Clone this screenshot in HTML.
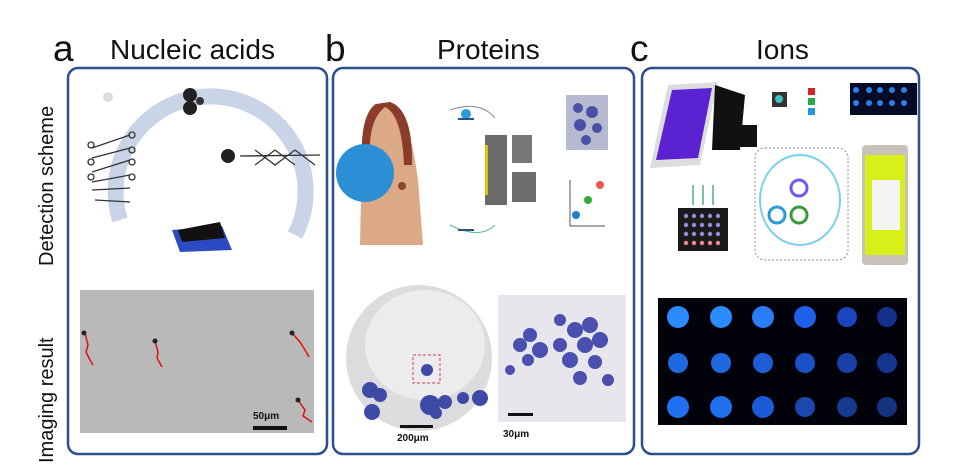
<!DOCTYPE html>
<html><head><meta charset="utf-8"><style>
html,body{margin:0;padding:0;background:#fff}
svg{display:block}
text{font-family:"Liberation Sans",Arial,sans-serif}
</style></head><body>
<svg width="955" height="475" viewBox="0 0 955 475" xmlns="http://www.w3.org/2000/svg">
<rect width="955" height="475" fill="#fff"/>
<!-- headers -->
<text x="53" y="61" font-size="37" fill="#111">a</text>
<text x="110" y="59" font-size="28" fill="#111">Nucleic acids</text>
<text x="325" y="61" font-size="37" fill="#111">b</text>
<text x="437" y="59" font-size="28" fill="#111">Proteins</text>
<text x="630" y="61" font-size="37" fill="#111">c</text>
<text x="756" y="59" font-size="28" fill="#111">Ions</text>
<!-- side labels -->
<text transform="translate(53,266) rotate(-90)" font-size="20" fill="#111">Detection scheme</text>
<text transform="translate(53,463) rotate(-90)" font-size="20" fill="#111">Imaging result</text>
<!-- boxes -->
<rect x="68" y="68" width="259" height="386" rx="10" fill="none" stroke="#2d4f8e" stroke-width="2.5"/>
<rect x="333" y="68" width="301" height="386" rx="10" fill="none" stroke="#2d4f8e" stroke-width="2.5"/>
<rect x="642" y="68" width="277" height="386" rx="10" fill="none" stroke="#2d4f8e" stroke-width="2.5"/>

<!-- panel a scheme -->
<path d="M120 220 A95 95 0 1 1 295 235" fill="none" stroke="#c9d4e6" stroke-width="16"/>
<circle cx="108" cy="97" r="5" fill="#ddd"/>
<circle cx="190" cy="95" r="7" fill="#222"/><circle cx="190" cy="108" r="7" fill="#222"/><circle cx="200" cy="101" r="4" fill="#333"/>
<g stroke="#333" stroke-width="1.3" fill="none">
<path d="M92 148 L130 135 M92 158 L130 148 M92 172 L130 160 M92 182 L130 175 M92 190 L130 188 M95 200 L130 202"/>
<circle cx="132" cy="135" r="3"/><circle cx="132" cy="150" r="3"/><circle cx="132" cy="162" r="3"/><circle cx="132" cy="177" r="3"/>
<circle cx="91" cy="145" r="3"/><circle cx="91" cy="162" r="3"/><circle cx="91" cy="177" r="3"/>
<path d="M240 156 L320 155 M255 150 L275 165 L295 150 L315 165 M255 165 L275 150 L295 165"/>
</g>
<circle cx="228" cy="156" r="7" fill="#222"/>
<path d="M172 230 L222 226 L232 250 L180 252 Z" fill="#2a4bc2"/>
<path d="M178 230 L220 222 L225 238 L182 242 Z" fill="#111"/>
<!-- panel a image -->
<rect x="80" y="290" width="234" height="143" fill="#b9b9b9"/>
<g stroke="#e01010" stroke-width="1.5" fill="none">
<path d="M85 333 L88 345 L86 352 L90 360 L93 365"/>
<path d="M155 341 L158 352 L157 358 L162 367"/>
<path d="M292 333 L300 342 L305 350 L309 357"/>
<path d="M298 400 L305 410 L303 416 L312 422"/>
</g>
<circle cx="84" cy="333" r="2.5" fill="#222"/><circle cx="155" cy="341" r="2.5" fill="#222"/><circle cx="292" cy="333" r="2.5" fill="#222"/><circle cx="298" cy="400" r="2.5" fill="#222"/>
<text x="253" y="419" font-size="10" font-weight="bold" fill="#111">50μm</text>
<rect x="253" y="426" width="34" height="4" fill="#111"/>

<!-- panel b scheme -->
<path d="M375 104 Q362 115 362 150 L360 245 L423 245 L418 180 Q410 120 395 104 Z" fill="#dca987"/>
<path d="M376 104 Q360 115 362 160 L370 158 Q368 120 385 107 Q402 115 404 165 L412 165 Q413 110 390 102 Z" fill="#8a3b2a"/>
<circle cx="365" cy="173" r="29" fill="#2c8fd6"/>
<circle cx="402" cy="186" r="4" fill="#8a4630"/>
<path d="M450 110 Q480 100 495 118" fill="none" stroke="#789" stroke-width="1"/>
<circle cx="466" cy="114" r="5" fill="#2a9ad8"/><rect x="458" y="118" width="16" height="2" fill="#2a4f8e"/>
<path d="M450 225 Q480 240 495 225" fill="none" stroke="#5b9" stroke-width="1"/>
<rect x="458" y="229" width="16" height="2" fill="#2a4f8e"/>
<rect x="485" y="135" width="22" height="70" fill="#6a6a6a"/><rect x="485" y="145" width="3" height="50" fill="#d8c500"/>
<rect x="512" y="135" width="20" height="28" fill="#777"/><rect x="512" y="172" width="24" height="30" fill="#6c6c6c"/>
<rect x="566" y="95" width="42" height="55" fill="#b7b9d0"/>
<g fill="#4a4fa8"><circle cx="578" cy="108" r="5"/><circle cx="592" cy="112" r="6"/><circle cx="580" cy="125" r="6"/><circle cx="597" cy="128" r="5"/><circle cx="586" cy="140" r="5"/></g>
<path d="M570 180 L570 226 L605 226" fill="none" stroke="#555"/>
<circle cx="576" cy="215" r="4" fill="#1a80d0"/><circle cx="588" cy="200" r="4" fill="#3a3"/><circle cx="600" cy="185" r="4" fill="#e55"/>
<!-- panel b images -->
<ellipse cx="419" cy="358" rx="73" ry="73" fill="#dcdcde"/>
<ellipse cx="425" cy="345" rx="60" ry="55" fill="#ececef"/>
<g fill="#3f4aa6">
<circle cx="370" cy="390" r="8"/><circle cx="380" cy="395" r="7"/><circle cx="372" cy="412" r="8"/><circle cx="430" cy="405" r="10"/><circle cx="445" cy="402" r="7"/><circle cx="463" cy="398" r="6"/><circle cx="480" cy="398" r="8"/><circle cx="427" cy="370" r="6"/><circle cx="436" cy="413" r="6"/>
</g>
<rect x="413" y="355" width="27" height="28" fill="none" stroke="#d04040" stroke-dasharray="3,2"/>
<rect x="400" y="425" width="33" height="3" fill="#111"/>
<text x="397" y="441" font-size="10" font-weight="bold" fill="#111">200μm</text>
<rect x="498" y="295" width="128" height="127" fill="#e6e6ec"/>
<g fill="#4a4fb0">
<circle cx="520" cy="345" r="7"/><circle cx="530" cy="335" r="7"/><circle cx="540" cy="350" r="8"/><circle cx="528" cy="360" r="6"/><circle cx="560" cy="345" r="7"/>
<circle cx="575" cy="330" r="8"/><circle cx="590" cy="325" r="8"/><circle cx="600" cy="340" r="8"/><circle cx="585" cy="345" r="8"/><circle cx="570" cy="360" r="8"/><circle cx="595" cy="362" r="7"/><circle cx="580" cy="378" r="7"/><circle cx="608" cy="380" r="6"/><circle cx="560" cy="320" r="6"/><circle cx="510" cy="370" r="5"/>
</g>
<rect x="508" y="413" width="25" height="3" fill="#111"/>
<text x="503" y="437" font-size="10" font-weight="bold" fill="#111">30μm</text>

<!-- panel c scheme -->
<path d="M668 85 L718 82 L700 165 L650 168 Z" fill="#ddd"/>
<path d="M672 90 L712 88 L698 158 L656 160 Z" fill="#5a22d0"/>
<path d="M715 85 L745 95 L740 150 L712 150 Z" fill="#111"/>
<rect x="735" y="125" width="22" height="22" fill="#111"/>
<rect x="772" y="92" width="15" height="15" fill="#333"/><circle cx="779" cy="99" r="4" fill="#40c0c0"/>
<rect x="808" y="88" width="7" height="7" fill="#d22"/><rect x="808" y="98" width="7" height="7" fill="#2a4"/><rect x="808" y="108" width="7" height="7" fill="#29d"/>
<rect x="850" y="83" width="67" height="32" fill="#050a25"/>
<g fill="#2a7fee"><circle cx="856" cy="90" r="3"/><circle cx="869" cy="90" r="3"/><circle cx="880" cy="90" r="3"/><circle cx="892" cy="90" r="3"/><circle cx="904" cy="90" r="3"/><circle cx="856" cy="103" r="3"/><circle cx="869" cy="103" r="3"/><circle cx="880" cy="103" r="3"/><circle cx="892" cy="103" r="3"/><circle cx="904" cy="103" r="3"/></g>
<rect x="862" y="145" width="46" height="120" rx="4" fill="#c8c2b8"/>
<rect x="865" y="155" width="40" height="100" fill="#d9ef1a"/>
<rect x="872" y="180" width="28" height="50" fill="#f4f4f4"/>
<rect x="755" y="148" width="93" height="112" rx="10" fill="none" stroke="#888" stroke-dasharray="2,2"/>
<ellipse cx="800" cy="200" rx="40" ry="45" fill="none" stroke="#7cd0ee" stroke-width="2"/>
<circle cx="799" cy="188" r="8" fill="none" stroke="#6a5cf0" stroke-width="3"/>
<circle cx="777" cy="215" r="8" fill="none" stroke="#2a9ad8" stroke-width="3"/>
<circle cx="799" cy="215" r="8" fill="none" stroke="#3a9a3a" stroke-width="3"/>
<rect x="678" y="208" width="50" height="43" fill="#1a1a1a"/>
<g fill="#9a8ad8"><circle cx="686" cy="216" r="2.2"/><circle cx="694" cy="216" r="2.2"/><circle cx="702" cy="216" r="2.2"/><circle cx="710" cy="216" r="2.2"/><circle cx="718" cy="216" r="2.2"/>
<circle cx="686" cy="225" r="2.2"/><circle cx="694" cy="225" r="2.2"/><circle cx="702" cy="225" r="2.2"/><circle cx="710" cy="225" r="2.2"/><circle cx="718" cy="225" r="2.2"/>
<circle cx="686" cy="234" r="2.2"/><circle cx="694" cy="234" r="2.2"/><circle cx="702" cy="234" r="2.2"/><circle cx="710" cy="234" r="2.2"/><circle cx="718" cy="234" r="2.2"/>
<circle cx="686" cy="243" r="2.2" fill="#e88"/><circle cx="694" cy="243" r="2.2" fill="#e88"/><circle cx="702" cy="243" r="2.2" fill="#e88"/><circle cx="710" cy="243" r="2.2" fill="#e88"/><circle cx="718" cy="243" r="2.2" fill="#e88"/></g>
<path d="M693 205 L693 185 M703 205 L703 185 M713 205 L713 185" stroke="#5a9" stroke-width="1.5"/>
<!-- panel c image -->
<rect x="658" y="298" width="249" height="127" fill="#02030a"/>
<g>
<circle cx="678" cy="317" r="11" fill="#2a8cff"/><circle cx="721" cy="317" r="11" fill="#2a8cff"/><circle cx="763" cy="317" r="11" fill="#2a7cf8"/><circle cx="805" cy="317" r="11" fill="#2060e8"/><circle cx="847" cy="317" r="10" fill="#1a45c0"/><circle cx="887" cy="317" r="10" fill="#13308a"/>
<circle cx="678" cy="363" r="10" fill="#2068e0"/><circle cx="721" cy="363" r="10" fill="#2068e0"/><circle cx="763" cy="363" r="10" fill="#1d5ed8"/><circle cx="805" cy="363" r="10" fill="#1a50c8"/><circle cx="847" cy="363" r="10" fill="#1840a8"/><circle cx="887" cy="363" r="10" fill="#153590"/>
<circle cx="678" cy="407" r="11" fill="#2070f0"/><circle cx="721" cy="407" r="11" fill="#2070f0"/><circle cx="763" cy="407" r="11" fill="#1c5ad8"/><circle cx="805" cy="407" r="10" fill="#1a48b0"/><circle cx="847" cy="407" r="10" fill="#153a90"/><circle cx="887" cy="407" r="10" fill="#133280"/>
</g>
</svg>
</body></html>
